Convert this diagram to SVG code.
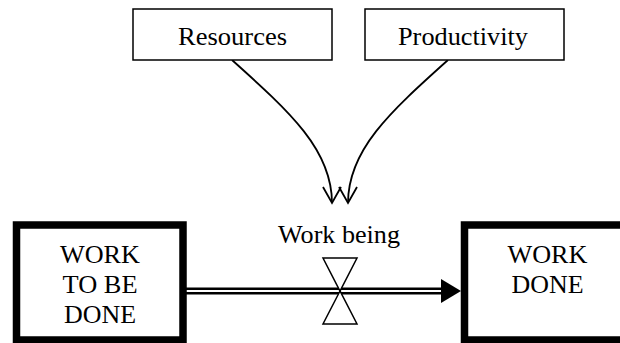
<svg xmlns="http://www.w3.org/2000/svg" width="620" height="343" viewBox="0 0 620 343">
<defs>
<style>
.aux{fill:#fff;stroke:#000;stroke-width:1.5}
.stock{fill:#fff;stroke:#000;stroke-width:7.5}
text{font-family:'Liberation Serif','Times New Roman',serif;font-size:26px;fill:#000;text-anchor:middle}
.link{fill:none;stroke:#000;stroke-width:1.8}
</style>
<marker id="open" markerUnits="userSpaceOnUse" markerWidth="20" markerHeight="22" refX="0" refY="0" viewBox="-18 -11 20 22" orient="auto" overflow="visible">
<path d="M-16,-9 L0,0 L-16,9" fill="none" stroke="#000" stroke-width="1.8"/>
</marker>
</defs>
<rect width="620" height="343" fill="#fff"/>
<g id="connectors">
<path class="link" d="M232,60 C290,112 332,150 332,203" marker-end="url(#open)"/>
<path class="link" d="M448,60 C390,112 348,150 348,203" marker-end="url(#open)"/>
<line x1="186" y1="291" x2="443" y2="291" stroke="#000" stroke-width="7"/>
<line x1="186" y1="291" x2="443" y2="291" stroke="#fff" stroke-width="2"/>
<polygon points="441,279 461,291 441,303" fill="#000"/>
</g>
<g id="resources">
<rect class="aux" x="133" y="9" width="199" height="51"/>
<text x="232.5" y="45" textLength="109" lengthAdjust="spacingAndGlyphs">Resources</text>
</g>
<g id="productivity">
<rect class="aux" x="365" y="9" width="199" height="51"/>
<text x="463" y="45" textLength="130" lengthAdjust="spacingAndGlyphs">Productivity</text>
</g>
<g id="work-to-be-done">
<rect class="stock" x="16.5" y="225" width="166.5" height="115"/>
<text x="100" y="263" textLength="80" lengthAdjust="spacingAndGlyphs">WORK</text>
<text x="100" y="293" textLength="75" lengthAdjust="spacingAndGlyphs">TO BE</text>
<text x="100" y="323" textLength="72" lengthAdjust="spacingAndGlyphs">DONE</text>
</g>
<g id="work-done">
<rect class="stock" x="464.5" y="225" width="200" height="115"/>
<text x="547.5" y="263" textLength="80" lengthAdjust="spacingAndGlyphs">WORK</text>
<text x="547.5" y="293" textLength="72" lengthAdjust="spacingAndGlyphs">DONE</text>
</g>
<g id="work-being">
<polygon class="aux" points="323,258 357,258 340,291"/>
<polygon class="aux" points="340,291 323,324 357,324"/>
<text x="339" y="243" textLength="122" lengthAdjust="spacingAndGlyphs">Work being</text>
</g>
</svg>
